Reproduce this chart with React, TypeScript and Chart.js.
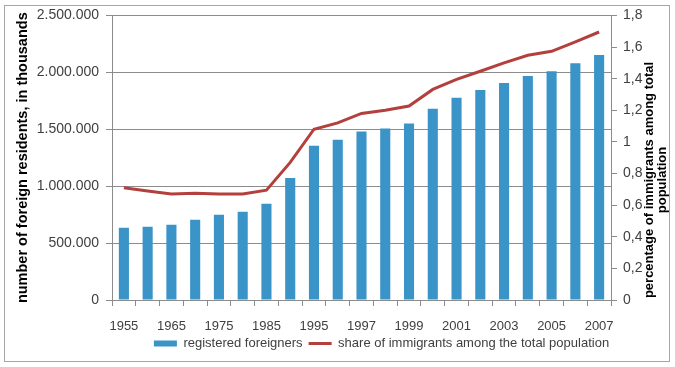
import React, { useEffect, useRef } from "react";
import { Chart, registerables } from "chart.js";

Chart.register(...registerables);

const years = [
  "1955", "1960", "1965", "1970", "1975", "1980", "1985", "1990",
  "1995", "1996", "1997", "1998", "1999", "2000", "2001", "2002",
  "2003", "2004", "2005", "2006", "2007",
];

const registeredForeigners = [
  635000, 643000, 662000, 705000, 749000, 775000, 845000, 1072000,
  1355000, 1407000, 1480000, 1506000, 1550000, 1681000, 1777000, 1844000,
  1906000, 1967000, 2010000, 2080000, 2153000,
];

const immigrantShare = [
  0.71, 0.69, 0.67, 0.675, 0.67, 0.67, 0.695, 0.87,
  1.08, 1.12, 1.18, 1.2, 1.227, 1.332, 1.395, 1.447,
  1.5, 1.548, 1.573, 1.632, 1.695,
];

const barLabel = "registered foreigners";
const lineLabel = "share of immigrants among the total population";
const leftTitle = "number of foreign residents, in thousands";
const rightTitleLines = ["percentage of immigrants among total", "population"];

const BLUE = "#3A94C7";
const RED = "#B3403C";
const GRID = "#8C8C8C";
const TEXT = "#404040";
const FONT = "'Liberation Sans', Arial, sans-serif";

const fmtThousands = (v: number) =>
  String(Math.round(v)).replace(/\B(?=(\d{3})+(?!\d))/g, ".");
const fmtDecimal = (v: number) =>
  String(Math.round(v * 10) / 10).replace(".", ",");

const framePlugin = {
  id: "framePlugin",
  afterLayout(chart: any) {
    const lg = chart.legend;
    if (lg) {
      lg.left += 44;
      lg.right += 44;
    }
  },
  beforeDraw(chart: any) {
    const ctx = chart.ctx;
    ctx.save();
    ctx.fillStyle = "#ffffff";
    ctx.fillRect(0, 0, chart.width, chart.height);
    ctx.strokeStyle = "#A6A6A6";
    ctx.lineWidth = 1;
    ctx.strokeRect(4.5, 5.5, 665, 356);
    ctx.restore();
  },
  afterDraw(chart: any) {
    const ctx = chart.ctx;
    ctx.save();
    ctx.fillStyle = "#000000";
    ctx.font = `bold 13px ${FONT}`;
    ctx.textAlign = "center";
    ctx.textBaseline = "middle";
    const cy = 180;
    const xs = [649, 662];
    rightTitleLines.forEach((line, i) => {
      ctx.save();
      ctx.translate(xs[i], cy);
      ctx.rotate(-Math.PI / 2);
      ctx.fillText(line, 0, 0);
      ctx.restore();
    });
    ctx.restore();
  },
};

export default function App() {
  const ref = useRef<HTMLCanvasElement | null>(null);

  useEffect(() => {
    if (!ref.current) return;
    const chart = new Chart(ref.current, {
      type: "bar",
      data: {
        labels: years,
        datasets: [
          {
            type: "bar",
            label: barLabel,
            data: registeredForeigners,
            backgroundColor: BLUE,
            borderWidth: 0,
            barPercentage: 0.85,
            categoryPercentage: 0.5,
            yAxisID: "y",
            order: 1,
          },
          {
            type: "line",
            label: lineLabel,
            data: immigrantShare,
            borderColor: RED,
            backgroundColor: RED,
            borderWidth: 3,
            pointRadius: 0,
            tension: 0,
            yAxisID: "y1",
            order: 0,
          } as any,
        ],
      },
      plugins: [framePlugin],
      options: {
        responsive: false,
        animation: false,
        layout: { padding: { top: 14, left: 0, right: 0, bottom: 7 } },
        plugins: {
          tooltip: { enabled: false },
          legend: {
            position: "bottom",
            labels: {
              font: { family: FONT, size: 13 },
              color: TEXT,
              usePointStyle: true,
              pointStyleWidth: 23,
              boxHeight: 6,
              padding: 6,
              generateLabels: () => [
                {
                  text: barLabel,
                  fillStyle: BLUE,
                  strokeStyle: BLUE,
                  lineWidth: 0,
                  pointStyle: "rect",
                  datasetIndex: 0,
                  hidden: false,
                  fontColor: TEXT,
                } as any,
                {
                  text: lineLabel,
                  fillStyle: RED,
                  strokeStyle: RED,
                  lineWidth: 3,
                  pointStyle: "line",
                  datasetIndex: 1,
                  hidden: false,
                  fontColor: TEXT,
                } as any,
              ],
            },
          },
        },
        scales: {
          x: {
            afterFit: (s: any) => {
              s.height = 31;
            },
            grid: {
              display: true,
              drawOnChartArea: false,
              drawTicks: true,
              tickLength: 6,
              offset: true,
              color: GRID,
            },
            border: { display: true, color: GRID },
            ticks: {
              autoSkip: false,
              maxRotation: 0,
              minRotation: 0,
              padding: 13,
              color: TEXT,
              font: { family: FONT, size: 13 },
              callback: (_v: any, i: number) => (i % 2 === 0 ? years[i] : ""),
            },
          },
          y: {
            position: "left",
            min: 0,
            max: 2500000,
            afterFit: (s: any) => {
              s.width = 112;
            },
            grid: { color: GRID, tickLength: 6, drawTicks: true },
            border: { display: true, color: GRID },
            ticks: {
              stepSize: 500000,
              padding: 7,
              color: TEXT,
              font: { family: FONT, size: 14 },
              callback: (v: any) => fmtThousands(Number(v)),
            },
            title: {
              display: true,
              text: leftTitle,
              color: "#000000",
              font: { family: FONT, size: 14.5, weight: "bold" },
              padding: { top: 14, bottom: 4 },
            },
          },
          y1: {
            position: "right",
            min: 0,
            max: 1.8,
            afterFit: (s: any) => {
              s.width = 64;
            },
            grid: { drawOnChartArea: false, color: GRID, tickLength: 6, drawTicks: true },
            border: { display: true, color: GRID },
            ticks: {
              stepSize: 0.2,
              padding: 6,
              color: TEXT,
              font: { family: FONT, size: 14 },
              callback: (v: any) => fmtDecimal(Number(v)),
            },
          },
        },
      },
    });
    return () => chart.destroy();
  }, []);

  return (
    <div style={{ position: "fixed", left: 0, top: 0, width: 675, height: 367 }}>
      <canvas ref={ref} width={675} height={367} style={{ display: "block" }} />
    </div>
  );
}
